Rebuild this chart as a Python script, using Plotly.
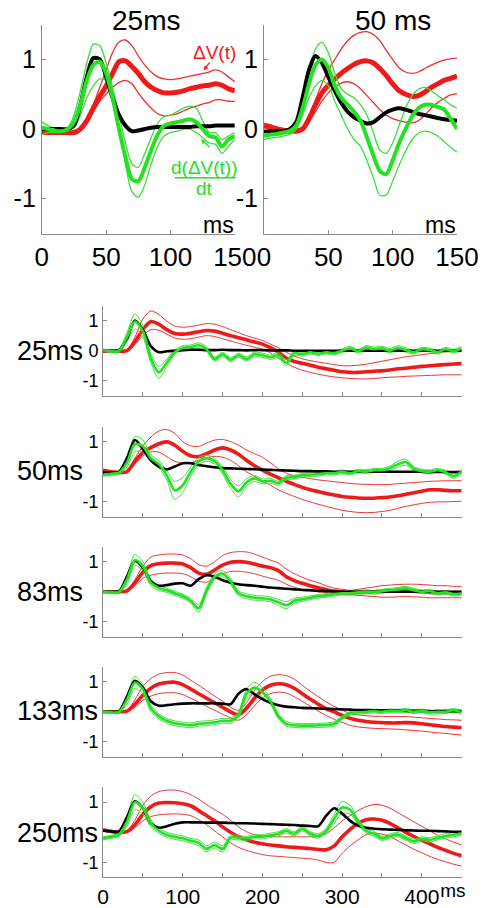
import plotly.graph_objects as go

W, H = 495, 908

# ---------------- time bases ----------------
T_TOP = [0, 5, 10, 15, 20, 25, 30, 35, 40, 45, 50, 55, 60, 65, 70, 75, 80, 85, 90, 95,
         100, 105, 110, 115, 120, 125, 130, 135, 140, 145, 150]
T_BOT = [0, 10, 20, 30, 40, 50, 60, 70, 80, 90, 100, 110, 120, 130, 140, 150, 160, 170, 180, 190,
         200, 210, 220, 230, 240, 250, 260, 270, 280, 290, 300, 310, 320, 330, 340, 350, 360, 370, 380, 390,
         400, 410, 420, 430, 440, 450]

TOP_TITLES = ["25ms", "50 ms"]
ROW_LABELS = ["25ms", "50ms", "83ms", "133ms", "250ms"]
TOP_XTICKS = [0, 50, 100, 150]
BOT_XTICKS = [0, 50, 100, 150, 200, 250, 300, 350, 400, 450]
BOT_XTICKTEXT = ["0", "", "100", "", "200", "", "300", "", "400", ""]

# ---------------- top-left (25 ms) ----------------
tl_black = [0, 0, 0, 0, 0.0, 0.05, 0.35, 0.75, 1.02, 1.0,
            0.75, 0.45, 0.2, 0.05, -0.03, -0.02, 0.0, 0.02, 0.03, 0.03,
            0.03, 0.03, 0.03, 0.03, 0.04, 0.04, 0.04, 0.05, 0.05, 0.05, 0.05]
tl_red = [-0.05, -0.05, -0.05, -0.05, -0.05, -0.05, 0.0, 0.12, 0.3, 0.47,
          0.62, 0.8, 0.97, 0.98, 0.9, 0.8, 0.68, 0.6, 0.55, 0.52,
          0.52, 0.53, 0.55, 0.58, 0.6, 0.62, 0.63, 0.65, 0.63, 0.58, 0.55]
tl_red_hi = [-0.05, -0.05, -0.05, -0.05, -0.05, -0.04, 0.0, 0.13, 0.35, 0.6,
             0.85, 1.1, 1.25, 1.28, 1.2, 1.05, 0.92, 0.82, 0.75, 0.72,
             0.71, 0.72, 0.74, 0.76, 0.78, 0.8, 0.82, 0.85, 0.82, 0.75, 0.68]
tl_red_lo = [-0.06, -0.06, -0.06, -0.06, -0.06, -0.05, 0.0, 0.1, 0.25, 0.4,
             0.5, 0.6, 0.67, 0.7, 0.65, 0.52, 0.4, 0.3, 0.22, 0.19,
             0.2, 0.22, 0.26, 0.3, 0.33, 0.36, 0.38, 0.42, 0.42, 0.4, 0.4]
tl_green = [0.02, 0.0, -0.02, -0.03, 0.0, 0.1, 0.35, 0.7, 0.92, 0.97,
            0.8, 0.45, 0.0, -0.4, -0.72, -0.75, -0.55, -0.3, -0.08, 0.05,
            0.08, 0.1, 0.12, 0.14, 0.1, 0.0, -0.1, -0.12, -0.25, -0.15, -0.1]
tl_green_hi = [0.1, 0.05, 0.0, -0.02, 0.02, 0.2, 0.55, 0.95, 1.22, 1.2,
               0.95, 0.6, 0.2, -0.2, -0.5, -0.55, -0.35, -0.12, 0.08, 0.18,
               0.2, 0.25, 0.3, 0.33, 0.3, 0.12, -0.05, -0.05, -0.15, -0.1, -0.05]
tl_green_lo = [-0.08, -0.05, -0.05, -0.05, -0.03, 0.02, 0.2, 0.45, 0.62, 0.72,
               0.7, 0.45, 0.05, -0.5, -0.9, -0.98, -0.8, -0.5, -0.25, -0.1,
               -0.05, -0.03, 0.0, 0.0, -0.05, -0.12, -0.2, -0.22, -0.35, -0.25, -0.15]

# ---------------- top-right (50 ms) ----------------
tr_black = [-0.03, -0.03, -0.03, -0.03, 0.0, 0.1, 0.45, 0.85, 1.05, 0.95,
            0.75, 0.55, 0.38, 0.25, 0.17, 0.12, 0.08, 0.1, 0.17, 0.24,
            0.28, 0.3, 0.28, 0.25, 0.22, 0.2, 0.18, 0.16, 0.14, 0.13, 0.12]
tr_red = [0.05, 0.03, 0.0, -0.02, -0.03, -0.03, 0.0, 0.15, 0.35, 0.52,
          0.63, 0.72, 0.8, 0.87, 0.93, 0.97, 0.98, 0.95, 0.87, 0.77,
          0.65, 0.55, 0.5, 0.47, 0.48, 0.53, 0.6, 0.65, 0.7, 0.73, 0.76]
tr_red_hi = [0.08, 0.06, 0.03, 0.01, 0.0, 0.0, 0.02, 0.18, 0.42, 0.65,
             0.85, 1.0, 1.15, 1.27, 1.35, 1.39, 1.4, 1.36, 1.27, 1.13,
             1.0, 0.88, 0.82, 0.8, 0.82, 0.87, 0.92, 0.96, 0.99, 1.01, 1.02]
tr_red_lo = [0.02, 0.0, -0.02, -0.03, -0.03, -0.03, -0.02, 0.1, 0.25, 0.4,
             0.52, 0.6, 0.66, 0.68, 0.65, 0.58, 0.48, 0.38, 0.28, 0.2,
             0.15, 0.12, 0.1, 0.09, 0.12, 0.2, 0.3, 0.38, 0.44, 0.49, 0.51]
tr_green = [-0.1, -0.08, -0.07, -0.05, -0.03, 0.05, 0.3, 0.65, 0.92, 1.0,
            0.88, 0.62, 0.45, 0.35, 0.25, 0.12, -0.12, -0.38, -0.6, -0.65,
            -0.45, -0.2, 0.0, 0.18, 0.3, 0.35, 0.35, 0.32, 0.28, 0.15, 0.0]
tr_green_hi = [-0.05, -0.05, -0.03, -0.02, 0.0, 0.1, 0.4, 0.85, 1.15, 1.25,
               1.1, 0.8, 0.58, 0.5, 0.45, 0.35, 0.2, -0.05, -0.3, -0.35,
               -0.2, 0.05, 0.3, 0.48, 0.57, 0.6, 0.55, 0.48, 0.42, 0.35, 0.3]
tr_green_lo = [-0.15, -0.13, -0.12, -0.1, -0.08, 0.0, 0.2, 0.45, 0.62, 0.7,
               0.62, 0.4, 0.2, 0.0, -0.15, -0.25, -0.45, -0.7, -0.95, -0.95,
               -0.75, -0.52, -0.32, -0.15, -0.06, -0.03, -0.05, -0.1, -0.18, -0.26, -0.33]

# ---------------- bottom row 1 (25 ms) ----------------
p1_black = [0, 0, 0.02, 0.4, 1.0, 0.7, 0.15, -0.05, -0.02, 0.0,
            0.02, 0.03, 0.03, 0.02, 0.02, 0.03, 0.02, 0.02, 0.01, 0.02,
            0.02, 0.01, 0.01, 0.01, 0.0, 0.0, 0.0, 0.0, 0.0, 0.0,
            0.0, 0.0, 0.0, 0.0, 0.0, 0.0, 0.0, 0.0, 0.0, 0.0,
            0.0, 0.0, 0.0, 0.0, 0.0, 0.0]
p1_red = [-0.02, -0.02, -0.02, 0.0, 0.3, 0.7, 0.97, 0.88, 0.7, 0.57,
          0.55, 0.58, 0.63, 0.67, 0.65, 0.58, 0.5, 0.43, 0.36, 0.29,
          0.22, 0.1, -0.05, -0.25, -0.36, -0.42, -0.48, -0.55, -0.6, -0.65,
          -0.7, -0.72, -0.72, -0.7, -0.68, -0.67, -0.64, -0.6, -0.58, -0.55,
          -0.52, -0.5, -0.48, -0.46, -0.44, -0.43]
p1_red_hi = [-0.02, -0.02, -0.02, 0.02, 0.45, 1.05, 1.32, 1.2, 0.98, 0.82,
             0.78, 0.8, 0.85, 0.9, 0.88, 0.8, 0.7, 0.6, 0.5, 0.42,
             0.34, 0.22, 0.1, -0.05, -0.18, -0.27, -0.33, -0.38, -0.42, -0.46,
             -0.5, -0.5, -0.48, -0.45, -0.4, -0.35, -0.3, -0.25, -0.2, -0.17,
             -0.13, -0.1, -0.07, -0.04, -0.02, 0.0]
p1_red_lo = [-0.02, -0.02, -0.02, -0.02, 0.2, 0.5, 0.7, 0.68, 0.55, 0.42,
             0.38, 0.4, 0.45, 0.5, 0.47, 0.4, 0.32, 0.25, 0.18, 0.12,
             0.05, -0.08, -0.25, -0.42, -0.55, -0.65, -0.72, -0.78, -0.83, -0.87,
             -0.9, -0.92, -0.93, -0.94, -0.92, -0.9, -0.88, -0.87, -0.85, -0.84,
             -0.83, -0.82, -0.81, -0.8, -0.8, -0.8]
p1_green = [0.02, -0.02, 0.0, 0.45, 0.97, 0.65, -0.25, -0.72, -0.4, -0.05,
            0.1, 0.12, 0.18, 0.05, -0.28, -0.12, -0.3, -0.15, -0.28, -0.12,
            -0.15, -0.22, -0.15, -0.4, -0.08, -0.12, -0.05, -0.1, -0.05, -0.08,
            0.0, 0.08, -0.02, 0.1, 0.05, 0.08, 0.0, 0.1, 0.02, -0.05,
            0.05, 0.02, -0.05, 0.05, -0.02, 0.08]
p1_green_spread = [0.04, 0.04, 0.05, 0.15, 0.25, 0.2, 0.15, 0.2, 0.12, 0.08,
                   0.07, 0.07, 0.08, 0.08, 0.07, 0.07, 0.07, 0.07, 0.07, 0.07,
                   0.07, 0.07, 0.08, 0.1, 0.08, 0.06, 0.06, 0.06, 0.06, 0.06,
                   0.06, 0.06, 0.06, 0.07, 0.07, 0.07, 0.07, 0.07, 0.07, 0.06,
                   0.06, 0.06, 0.06, 0.06, 0.06, 0.06]

# ---------------- bottom row 2 (50 ms) ----------------
p2_black = [-0.03, -0.03, 0.0, 0.45, 1.05, 0.75, 0.38, 0.17, 0.08, 0.17,
            0.28, 0.28, 0.22, 0.18, 0.15, 0.12, 0.11, 0.1, 0.09, 0.08,
            0.07, 0.06, 0.05, 0.04, 0.03, 0.02, 0.02, 0.01, 0.01, 0.0,
            0.0, 0.0, 0.0, 0.0, 0.0, 0.0, 0.0, 0.0, 0.0, 0.0,
            0.0, -0.01, -0.01, -0.01, -0.01, -0.01]
p2_red = [0.05, 0.0, -0.03, 0.0, 0.35, 0.63, 0.8, 0.93, 0.99, 0.88,
          0.68, 0.53, 0.5, 0.6, 0.72, 0.79, 0.72, 0.58, 0.38, 0.2,
          0.05, -0.08, -0.2, -0.32, -0.42, -0.52, -0.6, -0.66, -0.72, -0.77,
          -0.82, -0.85, -0.87, -0.88, -0.88, -0.86, -0.84, -0.8, -0.75, -0.7,
          -0.65, -0.6, -0.6, -0.62, -0.63, -0.63]
p2_red_hi = [0.08, 0.03, 0.0, 0.02, 0.45, 0.85, 1.15, 1.35, 1.4, 1.27,
             1.0, 0.86, 0.84, 0.95, 1.05, 1.07, 1.0, 0.88, 0.72, 0.6,
             0.48, 0.3, 0.1, -0.05, -0.13, -0.18, -0.23, -0.27, -0.3, -0.33,
             -0.36, -0.39, -0.41, -0.42, -0.43, -0.43, -0.42, -0.4, -0.38, -0.36,
             -0.34, -0.32, -0.31, -0.3, -0.3, -0.3]
p2_red_lo = [0.02, -0.02, -0.03, -0.02, 0.25, 0.52, 0.66, 0.65, 0.5, 0.35,
             0.28, 0.3, 0.38, 0.47, 0.51, 0.48, 0.38, 0.2, 0.0, -0.15,
             -0.3, -0.45, -0.6, -0.72, -0.82, -0.92, -1.0, -1.08, -1.15, -1.22,
             -1.28, -1.32, -1.35, -1.36, -1.35, -1.32, -1.28, -1.22, -1.15, -1.1,
             -1.05, -1.02, -1.0, -1.0, -0.99, -0.98]
p2_green = [-0.1, -0.07, -0.03, 0.3, 0.92, 0.85, 0.45, 0.25, -0.12, -0.62,
            -0.45, 0.0, 0.35, 0.45, 0.35, 0.05, -0.4, -0.65, -0.35, -0.22,
            -0.32, -0.3, -0.38, -0.2, -0.18, -0.12, -0.1, -0.08, -0.05, -0.05,
            0.0, -0.05, 0.02, 0.0, 0.05, 0.05, 0.12, 0.25, 0.32, 0.1,
            0.02, 0.0, 0.05, -0.02, -0.15, 0.02]
p2_green_spread = [0.05, 0.05, 0.05, 0.15, 0.25, 0.2, 0.12, 0.12, 0.15, 0.3,
                   0.25, 0.15, 0.12, 0.1, 0.1, 0.12, 0.15, 0.18, 0.12, 0.1,
                   0.08, 0.08, 0.07, 0.07, 0.06, 0.06, 0.06, 0.06, 0.06, 0.06,
                   0.06, 0.06, 0.06, 0.06, 0.06, 0.06, 0.07, 0.1, 0.1, 0.07,
                   0.06, 0.06, 0.06, 0.06, 0.07, 0.06]

# ---------------- bottom row 3 (83 ms) ----------------
p3_black = [0, 0, 0.02, 0.5, 1.03, 0.8, 0.35, 0.2, 0.22, 0.27,
            0.28, 0.2, 0.42, 0.55, 0.5, 0.38, 0.3, 0.25, 0.22, 0.2,
            0.17, 0.14, 0.12, 0.1, 0.08, 0.06, 0.05, 0.03, 0.02, 0.01,
            0.0, 0.0, 0.0, 0.0, 0.0, 0.0, 0.0, 0.0, 0.0, 0.0,
            0.0, 0.0, 0.0, 0.0, 0.0, 0.0]
p3_red = [0.0, 0.0, 0.0, 0.03, 0.3, 0.65, 0.87, 0.93, 0.95, 0.95,
          0.92, 0.8, 0.62, 0.58, 0.72, 0.88, 0.98, 1.0, 0.98, 0.92,
          0.85, 0.8, 0.7, 0.5, 0.37, 0.28, 0.2, 0.13, 0.07, 0.02,
          0.0, -0.02, -0.02, -0.02, 0.0, 0.02, 0.03, 0.03, 0.03, 0.02,
          0.0, -0.02, -0.03, -0.03, -0.03, -0.03]
p3_red_hi = [0.02, 0.02, 0.02, 0.05, 0.4, 0.85, 1.15, 1.22, 1.25, 1.25,
             1.22, 1.1, 0.9, 0.85, 1.0, 1.2, 1.3, 1.33, 1.32, 1.25,
             1.15, 1.05, 0.95, 0.75, 0.6, 0.48, 0.38, 0.3, 0.2, 0.12,
             0.08, 0.05, 0.08, 0.12, 0.16, 0.2, 0.22, 0.24, 0.25, 0.25,
             0.24, 0.22, 0.2, 0.2, 0.18, 0.18]
p3_red_lo = [-0.02, -0.02, -0.02, 0.0, 0.2, 0.45, 0.55, 0.6, 0.62, 0.62,
             0.6, 0.5, 0.35, 0.32, 0.45, 0.6, 0.67, 0.68, 0.65, 0.6,
             0.52, 0.45, 0.38, 0.25, 0.15, 0.08, 0.03, 0.0, -0.03, -0.06,
             -0.08, -0.1, -0.12, -0.14, -0.16, -0.18, -0.18, -0.17, -0.16, -0.17,
             -0.18, -0.2, -0.2, -0.2, -0.2, -0.2]
p3_green = [0.0, -0.02, 0.0, 0.4, 1.05, 0.85, 0.3, 0.12, 0.05, -0.05,
            -0.15, -0.3, -0.55, 0.05, 0.5, 0.6, 0.35, -0.05, -0.15, -0.2,
            -0.22, -0.25, -0.35, -0.45, -0.3, -0.25, -0.2, -0.15, -0.12, -0.08,
            -0.05, -0.05, -0.02, 0.0, -0.02, 0.02, 0.05, 0.08, 0.12, 0.05,
            0.0, 0.02, -0.05, -0.02, -0.08, -0.05]
p3_green_spread = [0.04, 0.04, 0.05, 0.15, 0.18, 0.15, 0.1, 0.08, 0.07, 0.07,
                   0.07, 0.08, 0.12, 0.1, 0.1, 0.1, 0.1, 0.08, 0.08, 0.08,
                   0.08, 0.08, 0.1, 0.12, 0.08, 0.07, 0.06, 0.06, 0.06, 0.06,
                   0.06, 0.06, 0.06, 0.06, 0.06, 0.06, 0.06, 0.06, 0.06, 0.06,
                   0.06, 0.06, 0.06, 0.06, 0.06, 0.06]

# ---------------- bottom row 4 (133 ms) ----------------
p4_black = [0, 0, 0.02, 0.5, 1.03, 0.8, 0.35, 0.2, 0.22, 0.25,
            0.27, 0.28, 0.28, 0.28, 0.28, 0.27, 0.25, 0.6, 0.75, 0.58,
            0.42, 0.3, 0.22, 0.17, 0.15, 0.13, 0.12, 0.11, 0.1, 0.09,
            0.08, 0.07, 0.06, 0.06, 0.05, 0.05, 0.04, 0.04, 0.03, 0.03,
            0.03, 0.02, 0.02, 0.02, 0.02, 0.02]
p4_red = [0, 0, 0, 0.02, 0.25, 0.55, 0.78, 0.92, 0.97, 0.98,
          0.9, 0.75, 0.6, 0.45, 0.3, 0.15, 0.0, -0.1, 0.12, 0.45,
          0.72, 0.88, 0.93, 0.9, 0.78, 0.6, 0.42, 0.25, 0.1, 0.0,
          -0.12, -0.22, -0.28, -0.32, -0.35, -0.36, -0.37, -0.37, -0.36, -0.37,
          -0.4, -0.43, -0.46, -0.49, -0.51, -0.53]
p4_red_hi = [0.02, 0.02, 0.02, 0.05, 0.4, 0.85, 1.1, 1.25, 1.3, 1.3,
             1.22, 1.05, 0.88, 0.7, 0.52, 0.35, 0.15, 0.05, 0.3, 0.7,
             1.0, 1.18, 1.23, 1.2, 1.08, 0.88, 0.68, 0.5, 0.33, 0.18,
             0.05, -0.05, -0.1, -0.13, -0.15, -0.15, -0.16, -0.16, -0.16, -0.18,
             -0.2, -0.22, -0.24, -0.26, -0.27, -0.28]
p4_red_lo = [-0.02, -0.02, -0.02, 0.0, 0.15, 0.38, 0.52, 0.6, 0.63, 0.63,
             0.57, 0.45, 0.32, 0.18, 0.05, -0.08, -0.2, -0.28, -0.1, 0.2,
             0.45, 0.6, 0.65, 0.62, 0.5, 0.35, 0.18, 0.02, -0.12, -0.25,
             -0.35, -0.45, -0.5, -0.53, -0.55, -0.56, -0.57, -0.58, -0.6, -0.62,
             -0.64, -0.67, -0.7, -0.72, -0.75, -0.77]
p4_green = [0.0, -0.02, 0.0, 0.4, 0.97, 0.75, 0.12, -0.15, -0.3, -0.38,
            -0.42, -0.45, -0.4, -0.38, -0.35, -0.3, -0.3, -0.1, 0.6, 0.8,
            0.65, 0.35, -0.15, -0.4, -0.45, -0.46, -0.46, -0.45, -0.44, -0.4,
            -0.2, -0.05, -0.02, 0.0, 0.02, 0.0, 0.03, 0.02, 0.05, 0.0,
            0.03, -0.02, 0.0, 0.0, 0.05, -0.02]
p4_green_spread = [0.04, 0.04, 0.05, 0.15, 0.2, 0.15, 0.1, 0.08, 0.08, 0.08,
                   0.08, 0.08, 0.08, 0.08, 0.08, 0.08, 0.08, 0.1, 0.15, 0.18,
                   0.15, 0.1, 0.08, 0.08, 0.07, 0.07, 0.07, 0.07, 0.07, 0.07,
                   0.06, 0.06, 0.06, 0.06, 0.06, 0.06, 0.06, 0.06, 0.06, 0.06,
                   0.06, 0.06, 0.06, 0.06, 0.06, 0.06]

# ---------------- bottom row 5 (250 ms) ----------------
p5_black = [0.05, 0.03, 0.03, 0.5, 1.03, 0.8, 0.3, 0.15, 0.2, 0.28,
            0.33, 0.33, 0.33, 0.32, 0.32, 0.32, 0.31, 0.3, 0.3, 0.29,
            0.28, 0.27, 0.26, 0.25, 0.24, 0.22, 0.21, 0.2, 0.55, 0.8,
            0.62, 0.38, 0.22, 0.15, 0.12, 0.1, 0.09, 0.08, 0.07, 0.06,
            0.05, 0.05, 0.04, 0.03, 0.02, 0.02]
p5_red = [0.08, 0.03, 0.0, 0.02, 0.25, 0.6, 0.85, 0.97, 0.99, 0.98,
          0.95, 0.88, 0.72, 0.55, 0.38, 0.18, 0.0, -0.15, -0.25, -0.33,
          -0.38, -0.42, -0.45, -0.48, -0.5, -0.52, -0.54, -0.57, -0.58, -0.45,
          -0.15, 0.1, 0.3, 0.42, 0.44, 0.4, 0.3, 0.15, 0.0, -0.14,
          -0.27, -0.38, -0.5, -0.6, -0.7, -0.78]
p5_red_hi = [0.1, 0.05, 0.02, 0.05, 0.4, 0.9, 1.2, 1.35, 1.4, 1.4,
             1.35, 1.25, 1.1, 0.92, 0.75, 0.6, 0.4, 0.18, 0.02, -0.08,
             -0.12, -0.14, -0.15, -0.15, -0.15, -0.15, -0.15, -0.14, -0.05, 0.15,
             0.38, 0.55, 0.72, 0.85, 0.92, 0.9, 0.8, 0.65, 0.5, 0.35,
             0.2, 0.05, -0.1, -0.22, -0.33, -0.42]
p5_red_lo = [0.05, 0.02, -0.02, 0.0, 0.15, 0.38, 0.52, 0.58, 0.6, 0.61,
             0.6, 0.55, 0.42, 0.25, 0.05, -0.15, -0.35, -0.5, -0.6, -0.68,
             -0.74, -0.78, -0.8, -0.82, -0.84, -0.86, -0.88, -0.92, -1.0, -1.0,
             -0.7, -0.45, -0.25, -0.08, -0.03, -0.06, -0.15, -0.28, -0.42, -0.56,
             -0.68, -0.8, -0.9, -0.98, -1.06, -1.12]
p5_green = [-0.2, -0.15, -0.08, 0.35, 1.0, 0.8, 0.3, 0.05, -0.08, -0.15,
            -0.2, -0.28, -0.35, -0.55, -0.42, -0.55, -0.18, -0.18, -0.2, -0.15,
            -0.15, -0.1, -0.05, 0.05, -0.05, 0.12, -0.05, -0.12, 0.05, 0.45,
            0.82, 0.75, 0.35, 0.05, -0.05, -0.2, -0.12, -0.08, -0.2, -0.3,
            -0.22, -0.25, -0.18, -0.12, -0.08, -0.03]
p5_green_spread = [0.05, 0.05, 0.05, 0.15, 0.25, 0.2, 0.12, 0.08, 0.08, 0.08,
                   0.08, 0.08, 0.1, 0.1, 0.1, 0.1, 0.08, 0.07, 0.07, 0.07,
                   0.07, 0.07, 0.07, 0.07, 0.07, 0.07, 0.07, 0.07, 0.08, 0.15,
                   0.2, 0.15, 0.1, 0.08, 0.08, 0.07, 0.07, 0.07, 0.07, 0.07,
                   0.07, 0.07, 0.07, 0.07, 0.07, 0.07]

# ---------------- styling ----------------
FONT = "Liberation Sans, Arial, Helvetica, sans-serif"
RED = "rgb(238,26,26)"
RED_THIN = "rgb(238,48,48)"
GREEN = "rgb(34,226,34)"
GREEN_THIN = "rgb(60,222,60)"
BLACK = "rgb(0,0,0)"
AXC = "#8a8a8a"


def xp(p):
    return p / W


def yp(p):
    return 1 - p / H


fig = go.Figure()


def add(n, t, y, color, width):
    suf = "" if n == 1 else str(n)
    fig.add_trace(go.Scatter(
        x=t, y=y, mode="lines",
        line=dict(color=color, width=width, shape="spline", smoothing=0.8),
        xaxis="x" + suf, yaxis="y" + suf, hoverinfo="skip", showlegend=False))


def panel(n, t, black, red, red_hi, red_lo, green, green_hi, green_lo, thick, thin):
    add(n, t, red_hi, RED_THIN, thin)
    add(n, t, red_lo, RED_THIN, thin)
    add(n, t, red, RED, thick + 1)
    add(n, t, green_hi, GREEN_THIN, thin)
    add(n, t, green_lo, GREEN_THIN, thin)
    add(n, t, black, BLACK, thick)
    add(n, t, green, GREEN, thick)


panel(1, T_TOP, tl_black, tl_red, tl_red_hi, tl_red_lo, tl_green, tl_green_hi, tl_green_lo, 4.0, 1.3)
panel(2, T_TOP, tr_black, tr_red, tr_red_hi, tr_red_lo, tr_green, tr_green_hi, tr_green_lo, 4.0, 1.3)

bottom = [
    (p1_black, p1_red, p1_red_hi, p1_red_lo, p1_green, p1_green_spread),
    (p2_black, p2_red, p2_red_hi, p2_red_lo, p2_green, p2_green_spread),
    (p3_black, p3_red, p3_red_hi, p3_red_lo, p3_green, p3_green_spread),
    (p4_black, p4_red, p4_red_hi, p4_red_lo, p4_green, p4_green_spread),
    (p5_black, p5_red, p5_red_hi, p5_red_lo, p5_green, p5_green_spread),
]
for i, (bk, rd, rh, rl, gr, gs) in enumerate(bottom):
    ghi = [g + s for g, s in zip(gr, gs)]
    glo = [g - s for g, s in zip(gr, gs)]
    panel(3 + i, T_BOT, bk, rd, rh, rl, gr, ghi, glo, 2.6, 1.0)

# empty trace on an overlay axis that carries the "ms" unit label under the last panel
fig.add_trace(go.Scatter(x=[], y=[], mode="lines", xaxis="x8", yaxis="y7",
                         hoverinfo="skip", showlegend=False))

layout = dict(
    width=W, height=H, autosize=False,
    margin=dict(l=0, r=0, t=0, b=0, pad=0),
    paper_bgcolor="white", plot_bgcolor="white",
    font=dict(family=FONT, color="black"),
    showlegend=False,
)

common = dict(showgrid=False, zeroline=False, showline=True, linecolor=AXC, linewidth=1,
              ticks="inside", ticklen=4, tickcolor=AXC, tickwidth=1, fixedrange=True)

# top axes
for n, (x0, x1) in zip([1, 2], [(37, 242), (273, 478)]):
    suf = "" if n == 1 else str(n)
    layout["xaxis" + suf] = dict(common, domain=[xp(x0), xp(x1)], range=[0, 150],
                                 tickvals=TOP_XTICKS, ticktext=[str(v) for v in TOP_XTICKS],
                                 tickfont=dict(size=26, family=FONT, color="black"),
                                 anchor="y" + suf)
    layout["yaxis" + suf] = dict(common, domain=[yp(237), yp(25)], range=[-1.51, 1.5],
                                 tickvals=[-1, 0, 1], ticktext=["-1", "0", "1"],
                                 tickfont=dict(size=25, family=FONT, color="black"),
                                 anchor="x" + suf)

# bottom axes
zeros = [355, 477.5, 599, 720.5, 842.5]
for i, z in enumerate(zeros):
    n = 3 + i
    suf = str(n)
    last = (i == len(zeros) - 1)
    layout["xaxis" + suf] = dict(common, domain=[xp(102), xp(483)], range=[0, 450],
                                 tickvals=BOT_XTICKS, ticktext=BOT_XTICKTEXT,
                                 showticklabels=last,
                                 tickfont=dict(size=21, family=FONT, color="black"),
                                 anchor="y" + suf)
    if i == 0:
        tv, tt = [-1, 0, 1], ["-1", "0", "1"]
    else:
        tv, tt = [-1, 1], ["-1", "1"]
    layout["yaxis" + suf] = dict(common, domain=[yp(z + 45.75), yp(z - 45.75)], range=[-1.5, 1.5],
                                 tickvals=tv, ticktext=tt,
                                 tickfont=dict(size=18, family=FONT, color="black"),
                                 anchor="x" + suf)

layout["xaxis8"] = dict(domain=[xp(102), xp(483)], range=[0, 450], overlaying="x7", anchor="y7",
                        side="bottom", showline=False, showgrid=False, zeroline=False, ticks="",
                        tickvals=[439], ticktext=["ms"], fixedrange=True,
                        tickfont=dict(size=19, family=FONT, color="black"))

ann = []


def text(x, y, s, size, color="black", xanchor="center", yanchor="middle"):
    ann.append(dict(x=xp(x), y=yp(y), xref="paper", yref="paper", text=s, showarrow=False,
                    xanchor=xanchor, yanchor=yanchor, font=dict(size=size, color=color, family=FONT)))


text(148, 21, TOP_TITLES[0], 28)
text(410, 21, TOP_TITLES[1], 28)
text(225, 228, "ms", 23)
text(461, 228, "ms", 23)
for lab, z in zip(ROW_LABELS, [355, 477, 599, 720, 843]):
    text(9, z, lab, 27, xanchor="left")

# ΔV(t) label + arrow
text(220, 53, "ΔV(t)", 19, color=RED)
ann.append(dict(x=xp(209), y=yp(71), xref="paper", yref="paper", text="", showarrow=True,
                ax=7, ay=-9, arrowhead=2, arrowsize=0.7, arrowwidth=1.3, arrowcolor=RED))
# d(ΔV(t))/dt label + arrow
text(210, 170, "d(ΔV(t))", 19, color=GREEN)
text(210, 191, "dt", 19, color=GREEN)
ann.append(dict(x=xp(206), y=yp(141), xref="paper", yref="paper", text="", showarrow=True,
                ax=10, ay=9, arrowhead=2, arrowsize=0.7, arrowwidth=1.3, arrowcolor=GREEN))
layout["annotations"] = ann
layout["shapes"] = [dict(type="line", xref="paper", yref="paper",
                         x0=xp(178), x1=xp(243), y0=yp(180), y1=yp(180),
                         line=dict(color=GREEN, width=1.5))]

fig.update_layout(**layout)
fig.write_html("out.html")
